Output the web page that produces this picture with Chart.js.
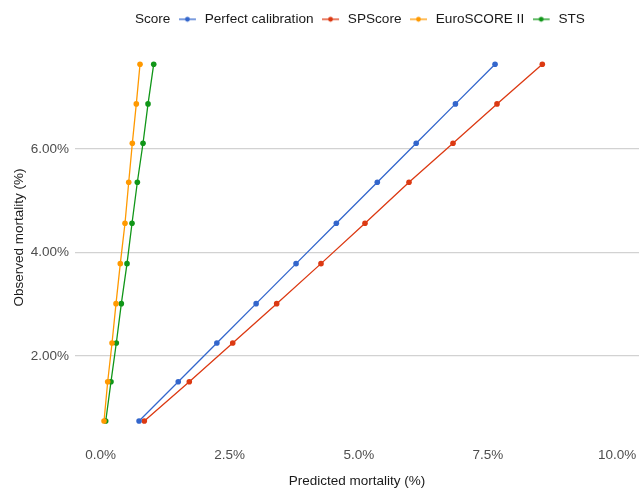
<!DOCTYPE html>
<html lang="en">
<head>
  <meta charset="UTF-8" />
  <title>Calibration plot</title>
  <script src="https://cdn.jsdelivr.net/npm/chart.js"></script>
  <style>
    body { margin: 0; background: #fff; }
    canvas { display: block; }
  </style>
</head>
<body>
<canvas id="calib" width="639" height="490"></canvas>

<script>
// observed mortality per risk group (same groups for every score)
const observed = [0.744, 1.503, 2.251, 3.011, 3.784, 4.564, 5.357, 6.110, 6.870, 7.637];

// predicted mortality per group
const perfectPred = [0.744, 1.503, 2.251, 3.011, 3.784, 4.564, 5.357, 6.110, 6.870, 7.637];
const spscorePred = [0.846, 1.717, 2.558, 3.409, 4.267, 5.119, 5.971, 6.823, 7.675, 8.552];
const euroPred = [0.066, 0.137, 0.221, 0.298, 0.381, 0.472, 0.544, 0.614, 0.691, 0.763];
const stsPred = [0.099, 0.201, 0.304, 0.401, 0.511, 0.608, 0.711, 0.821, 0.918, 1.028];

const seriesNames = ['Perfect calibration', 'SPScore', 'EuroSCORE II', 'STS'];
const seriesColors = ['#3366CC', '#DC3912', '#FF9900', '#109618'];

const xTicks = [0, 2.5, 5, 7.5, 10];
const yTicks = [2, 4, 6];

const FONT = "'Liberation Sans', Arial, Helvetica, sans-serif";

function pairs(xs, ys) {
  return xs.map((x, i) => ({ x: x, y: ys[i] }));
}

// little line-with-dot key used in the legend (2px spare on the right)
function legendMark(color) {
  const c = document.createElement('canvas');
  c.width = 19; c.height = 8;
  const g = c.getContext('2d');
  g.strokeStyle = color;
  g.lineWidth = 1.3;
  g.beginPath(); g.moveTo(0, 4); g.lineTo(17, 4); g.stroke();
  g.fillStyle = color;
  g.beginPath(); g.arc(8.5, 4, 2.4, 0, Math.PI * 2); g.fill();
  return c;
}
const blankMark = document.createElement('canvas');
blankMark.width = 1; blankMark.height = 1;
const marks = seriesColors.map(legendMark);

const preds = [perfectPred, spscorePred, euroPred, stsPred];
const datasets = preds.map((p, i) => ({
  label: seriesNames[i],
  data: pairs(p, observed),
  showLine: true,
  borderColor: seriesColors[i],
  backgroundColor: seriesColors[i],
  borderWidth: 1.3,
  pointRadius: 2.8,
  pointBorderWidth: 0,
  pointHoverRadius: 2.8
}));

// the "Score" entry leaves an empty key slot on the left, pull the row back over the panel
const legendNudge = {
  id: 'legendNudge',
  afterLayout(chart) {
    chart.legend.left -= 10;
    chart.legend.right -= 10;
  }
};

new Chart(document.getElementById('calib'), {
  type: 'scatter',
  data: { datasets: datasets },
  plugins: [legendNudge],
  options: {
    responsive: false,
    animation: false,
    layout: { autoPadding: false, padding: { top: 4, right: 0, bottom: 0, left: 0 } },
    plugins: {
      tooltip: { enabled: false },
      legend: {
        position: 'top',
        fullSize: false,
        onClick: null,
        labels: {
          usePointStyle: true,
          pointStyleWidth: 19,
          padding: 8.5,
          color: '#1a1a1a',
          font: { family: FONT, size: 13.6 },
          generateLabels: chart => [{
            text: 'Score', pointStyle: blankMark, fontColor: '#1a1a1a',
            hidden: false, lineWidth: 0, datasetIndex: -1
          }].concat(chart.data.datasets.map((d, i) => ({
            text: d.label, pointStyle: marks[i], fontColor: '#1a1a1a',
            hidden: false, lineWidth: 0, datasetIndex: i
          })))
        }
      }
    },
    scales: {
      x: {
        type: 'linear',
        min: -0.496,
        max: 10.424,
        afterBuildTicks: s => { s.ticks = xTicks.map(v => ({ value: v })); },
        afterFit: s => { s.height = 51; s.paddingLeft = 0; s.paddingRight = 0; },
        grid: { display: false },
        border: { display: false },
        ticks: {
          padding: 0,
          color: '#4d4d4d',
          font: { family: FONT, size: 13.5 },
          callback: v => v.toFixed(1) + '%'
        },
        title: {
          display: true,
          text: 'Predicted mortality (%)',
          color: '#1a1a1a',
          font: { family: FONT, size: 13.5 },
          padding: { top: 0, bottom: 1 }
        }
      },
      y: {
        type: 'linear',
        min: 0.396,
        max: 8.18,
        afterBuildTicks: s => { s.ticks = yTicks.map(v => ({ value: v })); },
        afterFit: s => { s.width = 75; },
        grid: { color: '#d2d2d2', lineWidth: 1.2, drawTicks: false },
        border: { display: false },
        ticks: {
          padding: 6,
          color: '#4d4d4d',
          font: { family: FONT, size: 13.5 },
          callback: v => v.toFixed(2) + '%'
        },
        title: {
          display: true,
          text: 'Observed mortality (%)',
          color: '#1a1a1a',
          font: { family: FONT, size: 13.5 },
          padding: { top: 11, bottom: 0 }
        }
      }
    }
  }
});
</script>
</body>
</html>
